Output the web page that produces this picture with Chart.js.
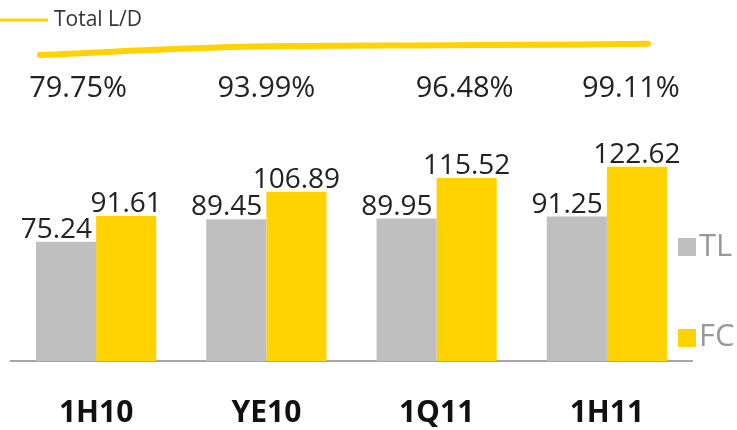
<!DOCTYPE html>
<html>
<head>
<meta charset="utf-8">
<script src="https://cdn.jsdelivr.net/npm/chart.js@4.4.1/dist/chart.umd.min.js"></script>
<style>
  html, body { margin: 0; padding: 0; background: #fff; }
  #wrap { position: relative; width: 737px; height: 430px; }
  #wrap canvas { position: absolute; left: 0; top: 0; }
</style>
</head>
<body>
<div id="wrap">
  <canvas id="barChart" width="737" height="430"></canvas>
  <canvas id="lineChart" width="737" height="430"></canvas>
</div>
<script>
const categories = ["1H10", "YE10", "1Q11", "1H11"];
const tlValues = [75.24, 89.45, 89.95, 91.25];
const fcValues = [91.61, 106.89, 115.52, 122.62];
const ldValues = [79.75, 93.99, 96.48, 99.11];
const ldLabels = ["79.75%", "93.99%", "96.48%", "99.11%"];

const GRAY = "#bfbfbf";
const YELLOW = "#ffd200";

Chart.defaults.font.family = "'Open Sans', sans-serif";

// value labels, percentages and the two legends
const labelPlugin = {
  id: "labels",
  afterDatasetsDraw(chart) {
    const ctx = chart.ctx;
    ctx.save();
    ctx.fillStyle = "#222";
    ctx.font = "28px 'Open Sans'";
    ctx.textBaseline = "alphabetic";

    chart.getDatasetMeta(0).data.forEach((bar, i) => {
      ctx.textAlign = "right";
      ctx.fillText(tlValues[i].toFixed(2), bar.x + bar.width / 2 - 4, bar.y - 4);
    });
    chart.getDatasetMeta(1).data.forEach((bar, i) => {
      ctx.textAlign = "center";
      ctx.fillText(fcValues[i].toFixed(2), bar.x, bar.y - 4);
    });

    // L/D percentages
    const shift = [-18, 0, 28, 24];
    ctx.font = "29px 'Open Sans'";
    ctx.textAlign = "center";
    ldLabels.forEach((t, i) => {
      ctx.fillText(t, chart.scales.x.getPixelForValue(i) + shift[i], 97);
    });

    // Total L/D legend
    ctx.strokeStyle = YELLOW;
    ctx.lineWidth = 3;
    ctx.beginPath();
    ctx.moveTo(0, 20);
    ctx.lineTo(48, 20);
    ctx.stroke();
    ctx.fillStyle = "#333";
    ctx.font = "21px 'Open Sans'";
    ctx.textAlign = "left";
    ctx.textBaseline = "middle";
    ctx.fillText("Total L/D", 54, 20);

    // TL / FC legend
    ctx.font = "31px 'Open Sans'";
    ctx.fillStyle = GRAY;
    ctx.fillRect(678, 238, 18, 18);
    ctx.fillStyle = YELLOW;
    ctx.fillRect(678, 329, 18, 18);
    ctx.fillStyle = "#999";
    ctx.fillText("TL", 699, 247);
    ctx.fillText("FC", 699, 337);
    ctx.restore();
  }
};

new Chart("barChart", {
  type: "bar",
  data: {
    labels: categories,
    datasets: [{
      label: "TL",
      backgroundColor: GRAY,
      data: tlValues
    }, {
      label: "FC",
      backgroundColor: YELLOW,
      data: fcValues
    }]
  },
  options: {
    responsive: false,
    animation: false,
    layout: { padding: { left: 11, right: 45, top: 0, bottom: -35 } },
    categoryPercentage: 0.706,
    barPercentage: 1.0,
    plugins: {
      legend: { display: false },
      tooltip: { enabled: false }
    },
    scales: {
      x: {
        grid: { display: false, drawTicks: false },
        border: { color: "#a6a6a6", width: 2 },
        ticks: {
          color: "#111",
          padding: 34,
          font: { size: 30, weight: "bold" }
        }
      },
      y: { display: false, min: 0, max: 228 }
    }
  },
  plugins: [labelPlugin]
});

// Total L/D line, drawn on its own canvas over the bars
new Chart("lineChart", {
  type: "line",
  data: {
    datasets: [{
      label: "Total L/D",
      borderColor: YELLOW,
      borderWidth: 6,
      borderCapStyle: "round",
      cubicInterpolationMode: "monotone",
      pointRadius: 0,
      data: ldValues.map((v, i) => ({ x: i, y: v }))
    }]
  },
  options: {
    responsive: false,
    animation: false,
    layout: { padding: { left: 11, right: 45, top: 0, bottom: 69 } },
    plugins: {
      legend: { display: false },
      tooltip: { enabled: false }
    },
    scales: {
      x: { type: "linear", display: false, offset: false, min: -0.143, max: 3.217 },
      y: { display: false, min: -457, max: 176 }
    }
  }
});
</script>
</body>
</html>
